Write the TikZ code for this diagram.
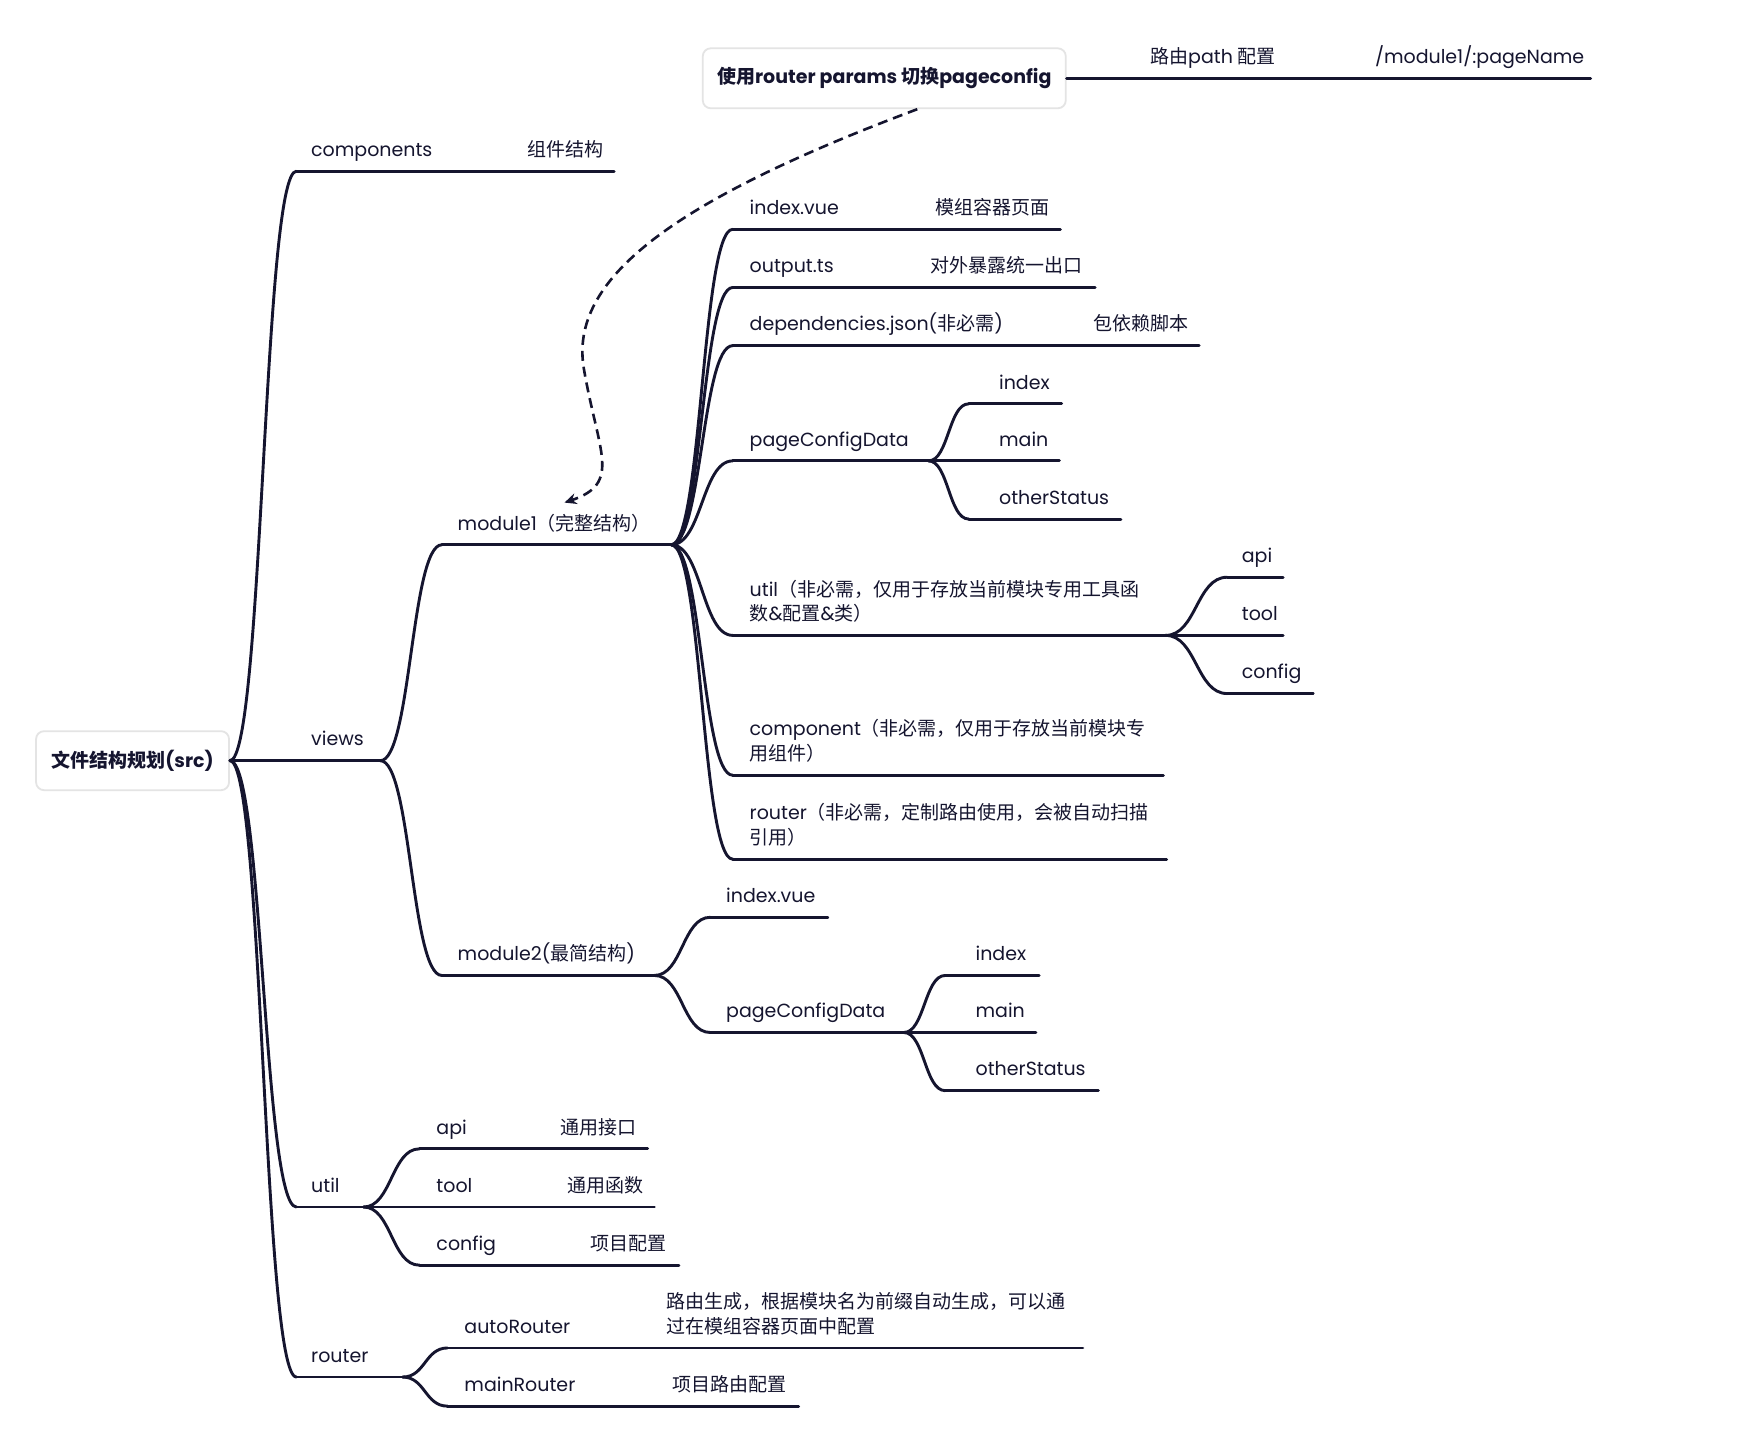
\documentclass[tikz,border=0pt]{standalone}
\usepackage{fontspec}
\setmainfont{Poppins}
\newfontfamily\cjkfam{Noto Sans CJK SC}
\usetikzlibrary{arrows.meta,calc}
% automatic switch to the CJK font for CJK characters
\XeTeXinterchartokenstate=1
\newXeTeXintercharclass\cjkcls
\newcount\cjkcc
\def\setcjkrange#1#2{\cjkcc=#1\relax\loop\XeTeXcharclass\cjkcc=\cjkcls\relax\ifnum\cjkcc<#2\advance\cjkcc by 1\repeat}
\setcjkrange{"3000}{"303F}
\setcjkrange{"4E00}{"9FFF}
\setcjkrange{"FF00}{"FFEF}
\XeTeXinterchartoks 0 \cjkcls = {\begingroup\cjkfam}
\XeTeXinterchartoks 4095 \cjkcls = {\begingroup\cjkfam}
\XeTeXinterchartoks \cjkcls 0 = {\endgroup}
\XeTeXinterchartoks \cjkcls 4095 = {\endgroup}
\definecolor{ink}{HTML}{15152F}
\definecolor{boxgray}{HTML}{E4E4E4}
\tikzset{
  ln/.style={draw=ink, line width=2.9pt, line cap=round},
  lbl/.style={anchor=south west, inner sep=0pt, text depth=0pt, text=ink,
    font=\fontsize{19}{24.5}\selectfont, align=left},
  rbox/.style={draw=boxgray, line width=1.8pt, rounded corners=8pt, fill=white,
    text=ink, inner sep=0pt, font=\fontsize{19}{24}\selectfont\bfseries},
  dasharrow/.style={draw=ink, line width=2.6pt, dash pattern=on 10pt off 6pt,
    -{Stealth[length=12pt,width=11pt]}}
}
\newcommand\mmitem[6]{%
  \coordinate (#1-s) at (#4,#3);
  \coordinate (#1-e) at (#5,#3);
  \node[lbl] (#1) at (#2,#3-13) {#6};
  \draw[ln] (#1-s) -- (#1-e);}
\newcommand\mmdesc[6]{%
  \coordinate (#1-e) at (#5,#4);
  \node[lbl] (#1) at (#3,#4-13) {#6};
  \draw[ln] (#2-e) -- (#1-e);}
\newcommand\br[2]{\draw[ln] let \p1=(#1),\p2=(#2) in (\p1) .. controls ({0.5*\x1+0.5*\x2},\y1) and ({0.5*\x1+0.5*\x2},\y2) .. (\p2);}
\begin{document}
\begin{tikzpicture}[x=1.1186pt,y=-1.1186pt]
\fill[white] (0,0) rectangle (1568,1291);
\useasboundingbox (0,0) rectangle (1568,1291);

% root
\node[rbox, minimum width=193pt, minimum height=59pt] (root) at (118.5,680) {文件结构规划(src)};

% level 1
\mmitem{comp}{278}{153}{265}{410}{components}
\mmdesc{compd}{comp}{471}{153}{549}{组件结构}
\mmitem{views}{278}{680}{265}{340}{views}
\mmitem{util}{278}{1079}{265}{325}{util}
\mmitem{router}{278}{1231}{265}{360}{router}
\br{root.east}{comp-s}
\br{root.east}{views-s}
\br{root.east}{util-s}
\br{root.east}{router-s}

% views
\mmitem{mA}{409}{487}{395}{600}{module1（完整结构）}
\mmitem{mB}{409}{872}{395}{585}{module2(最简结构)}
\br{views-e}{mA-s}
\br{views-e}{mB-s}

% module1 children
\mmitem{aIdx}{670}{205}{655}{820}{index.vue}
\mmdesc{aIdxd}{aIdx}{836}{205}{948}{模组容器页面}
\mmitem{aOut}{670}{257}{655}{820}{output.ts}
\mmdesc{aOutd}{aOut}{832}{257}{979}{对外暴露统一出口}
\mmitem{aDep}{670}{309}{655}{960}{dependencies.json(非必需)}
\mmdesc{aDepd}{aDep}{977}{309}{1072}{包依赖脚本}
\mmitem{aPcd}{670}{412}{655}{830}{pageConfigData}
\mmitem{aUt}{670}{568}{655}{1042}{util（非必需，仅用于存放当前模块专用工具函\\数\&配置\&类）}
\mmitem{aCp}{670}{693}{655}{1040}{component（非必需，仅用于存放当前模块专\\用组件）}
\mmitem{aRt}{670}{768}{655}{1043}{router（非必需，定制路由使用，会被自动扫描\\引用）}
\br{mA-e}{aIdx-s}
\br{mA-e}{aOut-s}
\br{mA-e}{aDep-s}
\br{mA-e}{aPcd-s}
\br{mA-e}{aUt-s}
\br{mA-e}{aCp-s}
\br{mA-e}{aRt-s}

% pageConfigData (module1)
\mmitem{aPi}{893}{361}{866}{949}{index}
\mmitem{aPm}{893}{412}{866}{947}{main}
\mmitem{aPo}{893}{464}{866}{1002}{otherStatus}
\br{aPcd-e}{aPi-s}
\br{aPcd-e}{aPm-s}
\br{aPcd-e}{aPo-s}

% util (module1)
\mmitem{aUa}{1110}{516}{1097}{1147}{api}
\mmitem{aUtl}{1110}{568}{1097}{1147}{tool}
\mmitem{aUc}{1110}{620}{1097}{1174}{config}
\br{aUt-e}{aUa-s}
\br{aUt-e}{aUtl-s}
\br{aUt-e}{aUc-s}

% module2 children
\mmitem{bIdx}{649}{820}{635}{740}{index.vue}
\mmitem{bPcd}{649}{923}{635}{808}{pageConfigData}
\br{mB-e}{bIdx-s}
\br{mB-e}{bPcd-s}
\mmitem{bPi}{872}{872}{845}{929}{index}
\mmitem{bPm}{872}{923}{845}{926}{main}
\mmitem{bPo}{872}{975}{845}{982}{otherStatus}
\br{bPcd-e}{bPi-s}
\br{bPcd-e}{bPm-s}
\br{bPcd-e}{bPo-s}

% util
\mmitem{uApi}{390}{1027}{375}{490}{api}
\mmdesc{uApid}{uApi}{501}{1027}{579}{通用接口}
\mmitem{uTool}{390}{1079}{375}{495}{tool}
\mmdesc{uToold}{uTool}{507}{1079}{585}{通用函数}
\mmitem{uCfg}{390}{1131}{375}{510}{config}
\mmdesc{uCfgd}{uCfg}{528}{1131}{607}{项目配置}
\br{util-e}{uApi-s}
\br{util-e}{uTool-s}
\br{util-e}{uCfg-s}

% router
\mmitem{rAuto}{415}{1205}{400}{580}{autoRouter}
\mmdesc{rAutod}{rAuto}{596}{1205}{968}{路由生成，根据模块名为前缀自动生成，可以通\\过在模组容器页面中配置}
\mmitem{rMain}{415}{1257}{400}{590}{mainRouter}
\mmdesc{rMaind}{rMain}{601}{1257}{714}{项目路由配置}
\br{router-e}{rAuto-s}
\br{router-e}{rMain-s}

% floating topic
\node[rbox, minimum width=363pt, minimum height=60pt] (top) at (790.5,70) {使用router params 切换pageconfig};
\coordinate (p1-e) at (1180,70);
\node[lbl] (p1) at (1028,57) {路由path 配置};
\draw[ln] (top.east) -- (p1-e);
\mmdesc{p2}{p1}{1229}{70}{1422}{/module1/:pageName}

% dashed relation
\draw[dasharrow] ([xshift=33pt]top.south) .. controls (600,180) and (508,250) .. (522,330)
  .. controls (535,405) and (556,432) .. ([xshift=107pt,yshift=11pt]mA.north west);
\end{tikzpicture}
\end{document}
